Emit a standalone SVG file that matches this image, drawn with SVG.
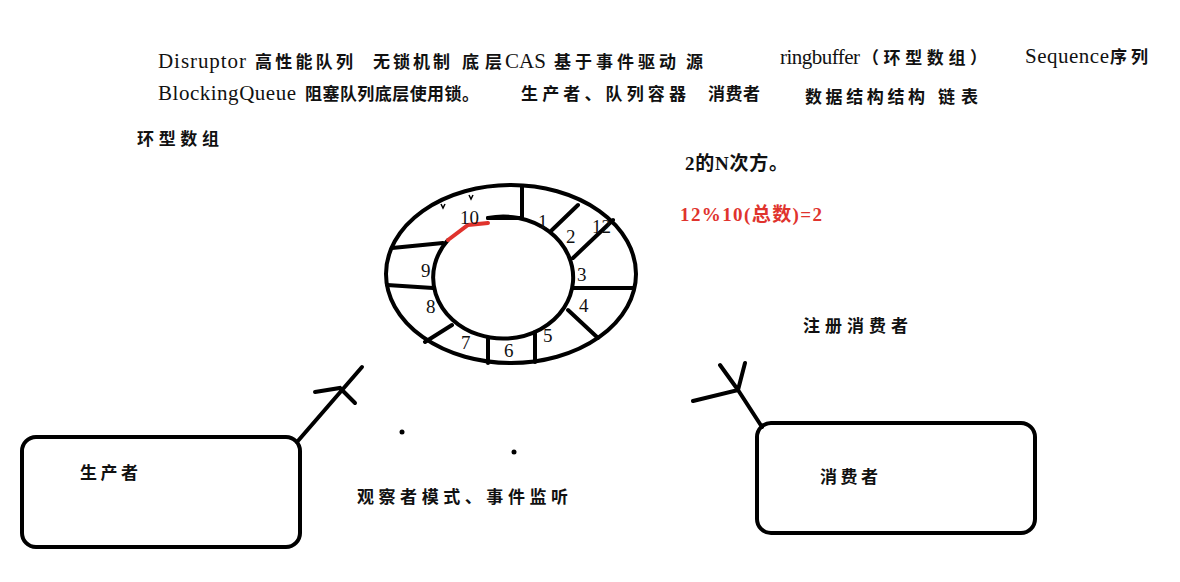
<svg xmlns="http://www.w3.org/2000/svg" width="1180" height="582" viewBox="0 0 1180 582">
<style>
.t{font-family:"Liberation Serif","Noto Sans CJK SC",serif;font-size:21px;fill:#111;}
.c{font-family:"Noto Sans CJK SC",sans-serif;font-size:17px;fill:#111;font-weight:bold;}
.m{font-family:"Liberation Serif","Noto Sans CJK SC",serif;font-size:19px;fill:#111;font-weight:bold;}
.r{fill:#e0332d;}
.n{font-family:"Liberation Serif",serif;font-size:19px;fill:#111;}
.ln{stroke:#000;stroke-width:4;fill:none;stroke-linecap:round;}
.box{stroke:#000;stroke-width:4;fill:#fff;}
</style>
<rect width="1180" height="582" fill="#fff"/>
<g id="header">
<text class="t" x="158" y="68" textLength="88" lengthAdjust="spacing">Disruptor</text>
<text class="c" x="255" y="68" textLength="98" lengthAdjust="spacing">高性能队列</text>
<text class="c" x="373" y="68" textLength="77" lengthAdjust="spacing">无锁机制</text>
<text class="c" x="462" y="68" textLength="40" lengthAdjust="spacing">底层</text>
<text class="t" x="505" y="68">CAS</text>
<text class="c" x="554" y="68" textLength="122" lengthAdjust="spacing">基于事件驱动</text>
<text class="c" x="686" y="68">源</text>
<text class="t" x="780" y="64" textLength="80" lengthAdjust="spacing">ringbuffer</text>
<text class="c" x="862" y="64" textLength="125" lengthAdjust="spacing">（环型数组）</text>
<text class="t" x="1025" y="63" textLength="84" lengthAdjust="spacing">Sequence</text>
<text class="c" x="1110" y="63" textLength="38" lengthAdjust="spacing">序列</text>
<text class="t" x="158" y="100" textLength="138" lengthAdjust="spacing">BlockingQueue</text>
<text class="c" x="305" y="100" textLength="174" lengthAdjust="spacing">阻塞队列底层使用锁。</text>
<text class="c" x="521" y="100" textLength="165" lengthAdjust="spacing">生产者、队列容器</text>
<text class="c" x="708" y="100" textLength="52" lengthAdjust="spacing">消费者</text>
<text class="c" x="805" y="103" textLength="120" lengthAdjust="spacing">数据结构结构</text>
<text class="c" x="938" y="103" textLength="40" lengthAdjust="spacing">链表</text>
<text class="c" x="137" y="145" textLength="82" lengthAdjust="spacing">环型数组</text>
<text class="m" x="685" y="170" textLength="103" lengthAdjust="spacing">2的N次方。</text>
<text class="m r" x="680" y="221" textLength="142" lengthAdjust="spacing">12%10(总数)=2</text>
<text class="c" x="803" y="332" textLength="105" lengthAdjust="spacing">注册消费者</text>
<text class="c" x="357" y="503" textLength="211" lengthAdjust="spacing">观察者模式、事件监听</text>
</g>
<g id="ringbuffer">
<ellipse class="ln" cx="511" cy="274" rx="125" ry="89"/>
<path class="ln" d="M488 218 A70 61 0 1 1 448 240"/>
<path d="M488 218 L522 218" class="ln"/>
<path d="M448 240 L468 225 L488 223" stroke="#e0332d" stroke-width="4" fill="none" stroke-linecap="round"/>
<path class="ln" d="M522 187 L522 218 M552 230 L578 205 M573 258 L613 220 M573 288 L633 288 M568 310 L598 338 M535 332 L535 362 M488 338 L488 363 M452 325 L425 342 M433 288 L387 285 M443 243 L392 248"/>
<path d="M441 204 l2 4 l2 -4 M469 195 l2 4 l2 -4" stroke="#000" stroke-width="1.5" fill="none"/>
<text class="n" x="538" y="228">1</text>
<text class="n" x="566" y="243">2</text>
<text class="n" x="577" y="281">3</text>
<text class="n" x="579" y="312">4</text>
<text class="n" x="543" y="342">5</text>
<text class="n" x="504" y="357">6</text>
<text class="n" x="461" y="349">7</text>
<text class="n" x="426" y="313">8</text>
<text class="n" x="421" y="277">9</text>
<text class="n r" x="460" y="224">10</text>
<text class="n r" x="592" y="233">12</text>
</g>
<g id="producer">
<rect class="box" x="22" y="437" width="278" height="110" rx="14"/>
<text class="c" x="80" y="479" textLength="58" lengthAdjust="spacing">生产者</text>
</g>
<g id="consumer">
<rect class="box" x="757" y="423" width="278" height="110" rx="14"/>
<text class="c" x="820" y="483" textLength="58" lengthAdjust="spacing">消费者</text>
</g>
<g id="connectors">
<path class="ln" d="M297 442 L362 367 M315 392 L340 388 L355 403"/>
<path class="ln" d="M762 427 L738 390 L693 401 M738 390 L720 365 M738 390 L745 363"/>
<circle cx="402" cy="432" r="2.5" fill="#000"/>
<circle cx="514" cy="452" r="2.5" fill="#000"/>
</g>
</svg>
